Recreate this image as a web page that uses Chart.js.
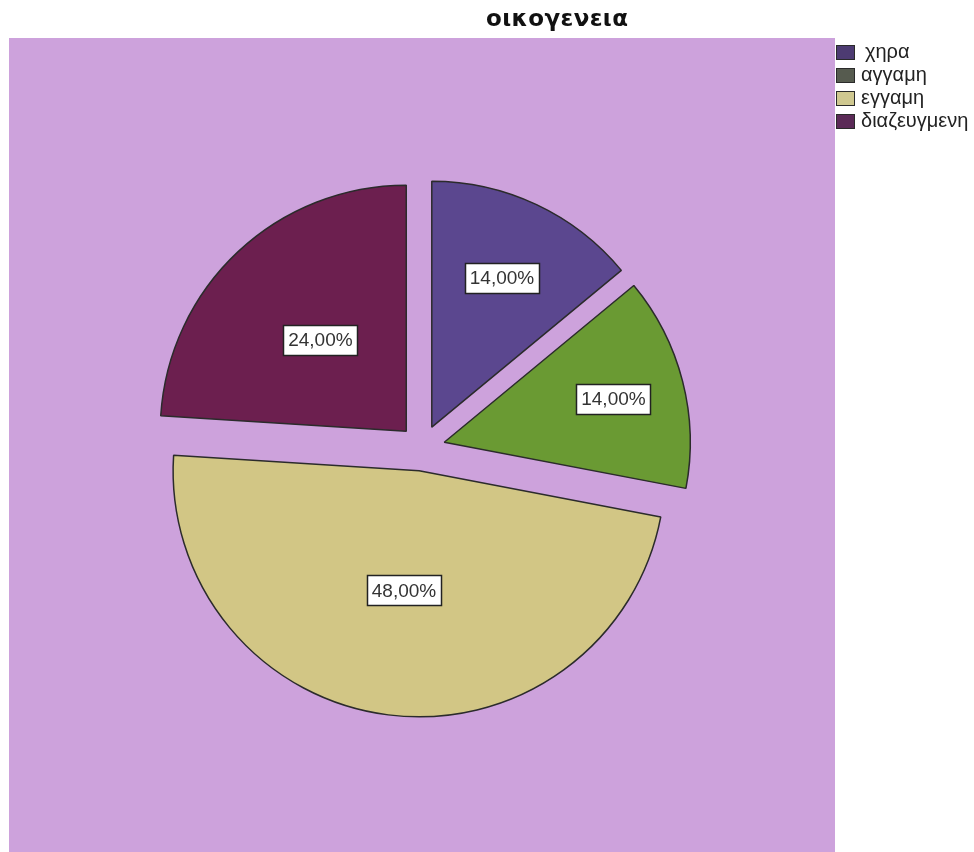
<!DOCTYPE html>
<html>
<head>
	<meta charset="utf-8">
	<title>οικογενεια</title>
	<script src="https://cdn.jsdelivr.net/npm/chart.js"></script>
	<style>
		html, body { margin: 0; padding: 0; background: #ffffff; }
		#wrap { width: 974px; height: 852px; }
	</style>
</head>
<body>
	<div id="wrap"><canvas id="grafico" width="974" height="852"></canvas></div>

	<script>
		// datos
		var categorias = ['χηρα', 'αγγαμη', 'εγγαμη', 'διαζευγμενη'];
		var porcentajes = [14, 14, 48, 24];
		var titulo = 'οικογενεια';

		// estilos
		var colores = ['#5b478f', '#6a9a33', '#d2c685', '#6c1f4f'];
		var coloresLeyenda = ['#4d3b72', '#565b4f', '#cfc890', '#5b2a57'];
		var fondo = '#cda2dc';
		var radioEtiqueta = [0.67, 0.71, 0.49, 0.51];
		var separacion = 23; // px que se separa cada porcion del centro

		function etiqueta(v) {
			return v.toFixed(2).replace('.', ',') + '%';
		}

		function desplazamiento(arc) {
			var p = arc.getProps(['startAngle', 'endAngle']);
			var mid = (p.startAngle + p.endAngle) / 2;
			return { x: Math.cos(mid) * separacion, y: Math.sin(mid) * separacion, mid: mid };
		}

		var pluginFondo = {
			id: 'fondo',
			beforeDraw: function (chart) {
				var a = chart.chartArea, c = chart.ctx;
				c.save();
				c.fillStyle = '#ffffff';
				c.fillRect(0, 0, chart.width, chart.height);
				c.fillStyle = fondo;
				c.fillRect(a.left, 38, a.right - a.left, a.bottom - 38);
				c.restore();
			},
			// cada porcion se dibuja separada del centro, igual para todas
			beforeDatasetsDraw: function (chart) {
				var c = chart.ctx;
				chart.getDatasetMeta(0).data.forEach(function (arc) {
					var d = desplazamiento(arc);
					c.save();
					c.translate(d.x, d.y);
					arc.draw(c);
					c.restore();
				});
				return false;
			},
			afterDraw: function (chart) {
				var c = chart.ctx;
				var meta = chart.getDatasetMeta(0);
				c.save();

				// etiquetas de porcentaje
				c.font = '19px "Liberation Sans", Arial, sans-serif';
				c.textAlign = 'center';
				c.textBaseline = 'middle';
				meta.data.forEach(function (arc, i) {
					var p = arc.getProps(['x', 'y', 'outerRadius']);
					var d = desplazamiento(arc);
					var r = separacion + radioEtiqueta[i] * p.outerRadius;
					var x = p.x + Math.cos(d.mid) * r;
					var y = p.y + Math.sin(d.mid) * r;
					var txt = etiqueta(porcentajes[i]);
					var w = Math.round(c.measureText(txt).width + 10);
					var h = 30;
					var bx = Math.round(x - w / 2) + 0.5, by = Math.round(y - h / 2) + 0.5;
					c.fillStyle = '#ffffff';
					c.fillRect(bx, by, w, h);
					c.strokeStyle = '#222222';
					c.lineWidth = 1.5;
					c.strokeRect(bx, by, w, h);
					c.fillStyle = '#333333';
					c.fillText(txt, x, y + 1);
				});

				// titulo
				c.font = 'bold 23px "DejaVu Sans", sans-serif';
				c.fillStyle = '#111111';
				c.textAlign = 'left';
				c.textBaseline = 'alphabetic';
				var anchoObj = 142;
				var letras = titulo.split('');
				var anchos = letras.map(function (l) { return c.measureText(l).width; });
				var suma = anchos.reduce(function (s, v) { return s + v; }, 0);
				var esp = (anchoObj - suma) / (letras.length - 1);
				var tx = 557 - anchoObj / 2;
				letras.forEach(function (l, i) {
					c.fillText(l, tx, 26);
					tx += anchos[i] + esp;
				});

				// leyenda
				c.font = '20px "Liberation Sans", Arial, sans-serif';
				c.textBaseline = 'middle';
				categorias.forEach(function (cat, i) {
					var y = 52 + i * 23;
					c.fillStyle = coloresLeyenda[i];
					c.fillRect(836, y - 7, 19, 15);
					c.strokeStyle = '#2a2a2a';
					c.lineWidth = 1;
					c.strokeRect(836.5, y - 6.5, 18, 14);
					c.fillStyle = '#222222';
					c.fillText(cat, i === 0 ? 865 : 861, y);
				});
				c.restore();
			}
		};

		var ctx = document.getElementById('grafico').getContext('2d');
		var chart = new Chart(ctx, {
			type: 'pie',
			data: {
				labels: categorias,
				datasets: [{
					data: porcentajes,
					backgroundColor: colores,
					borderColor: '#2b2b2b',
					borderWidth: 1.5,
					radius: 246
				}]
			},
			options: {
				responsive: false,
				animation: false,
				layout: { padding: { left: 9, right: 139, top: 44, bottom: 0 } },
				plugins: {
					legend: { display: false },
					title: { display: false },
					tooltip: { enabled: false }
				}
			},
			plugins: [pluginFondo]
		});
	</script>
</body>
</html>
